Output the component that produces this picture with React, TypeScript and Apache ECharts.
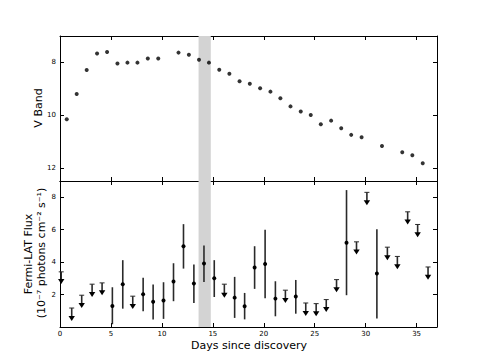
import React, { useEffect, useRef } from "react";
import * as echarts from "echarts";

// V band light curve (days since discovery, magnitude)
const vDays = [0.66, 1.64, 2.62, 3.64, 4.62, 5.64, 6.62, 7.6, 8.62, 9.64, 11.63, 12.65, 13.64, 14.62, 15.63, 16.62, 17.62, 18.63, 19.64, 20.65, 21.63, 22.62, 23.63, 24.61, 25.6, 26.61, 27.6, 28.58, 29.6, 31.6, 33.59, 34.58, 35.6];
const vMag = [10.16, 9.2, 8.29, 7.66, 7.61, 8.04, 8.01, 8.01, 7.85, 7.85, 7.63, 7.71, 7.9, 8.01, 8.28, 8.43, 8.72, 8.81, 8.98, 9.11, 9.36, 9.67, 9.86, 10.0, 10.35, 10.21, 10.5, 10.75, 10.84, 11.17, 11.41, 11.52, 11.83];

// Fermi-LAT detections
const detDays = [5.14, 6.16, 8.16, 9.14, 10.16, 11.14, 12.12, 13.14, 14.13, 15.14, 17.14, 18.12, 19.1, 20.13, 21.14, 23.14, 28.12, 31.1];
const detFlux = [1.3, 2.64, 2.02, 1.55, 1.63, 2.8, 4.98, 2.68, 3.91, 3.0, 1.81, 1.28, 3.67, 3.89, 1.75, 1.88, 5.19, 3.3];
const detLow = [0.17, 1.13, 0.97, 0.47, 0.5, 1.59, 3.6, 1.48, 2.78, 1.85, 0.56, 0.47, 2.35, 1.77, 0.66, 0.82, 1.96, 0.52];
const detHigh = [2.45, 4.12, 3.03, 2.62, 2.76, 3.93, 6.34, 3.85, 5.02, 4.12, 3.09, 2.1, 4.98, 5.99, 2.82, 2.9, 8.44, 6.03];

// Fermi-LAT upper limits (cap value, arrow tip value)
const ulDays = [0.12, 1.15, 2.13, 3.15, 4.13, 7.14, 16.13, 22.12, 24.12, 25.14, 26.13, 27.14, 29.1, 30.12, 32.13, 33.11, 34.12, 35.1, 36.12];
const ulTop = [3.4, 1.17, 1.96, 2.64, 2.72, 1.9, 2.64, 2.27, 1.48, 1.44, 1.69, 2.92, 5.25, 8.3, 4.92, 4.35, 7.1, 6.32, 3.7];
const ulTip = [2.65, 0.37, 1.17, 1.85, 1.96, 1.11, 1.81, 1.48, 0.68, 0.66, 0.93, 2.14, 4.47, 7.51, 4.12, 3.56, 6.32, 5.54, 2.92];

// highlighted interval
const bandRange = [13.6, 14.8];

// tick labels
const xTicks = [0, 5, 10, 15, 20, 25, 30, 35];
const vTicks = [8, 10, 12];
const fluxTicks = [2, 4, 6, 8];

const FONT = "DejaVu Sans";

export default function App() {
  const ref = useRef<HTMLDivElement>(null);
  useEffect(() => {
    if (!ref.current) return;
    const chart = echarts.init(ref.current, null, { renderer: "svg" });

    const mkX = (grid: number, pos: "top" | "bottom", labels: boolean) => ({
      type: "value",
      gridIndex: grid,
      position: pos,
      min: 0,
      max: 37,
      axisLine: { show: true, onZero: false, lineStyle: { color: "#000", width: 1 } },
      axisTick: { show: true, inside: true, length: 4, customValues: xTicks, lineStyle: { color: "#000" } },
      axisLabel: { show: labels, customValues: xTicks, fontSize: 7, color: "#000", margin: 3, fontFamily: FONT },
      splitLine: { show: false },
    });
    const mkY = (grid: number, pos: "left" | "right", labels: boolean, min: number, max: number, ticks: number[], inverse: boolean) => ({
      type: "value",
      gridIndex: grid,
      position: pos,
      min,
      max,
      inverse,
      axisLine: { show: true, onZero: false, lineStyle: { color: "#000", width: 1 } },
      axisTick: { show: true, inside: true, length: 4, customValues: ticks, lineStyle: { color: "#000" } },
      axisLabel: { show: labels, customValues: ticks, fontSize: 7, color: "#000", margin: 4, fontFamily: FONT },
      splitLine: { show: false },
    });

    const band = {
      silent: true,
      itemStyle: { color: "#d3d3d3" },
      data: [[{ xAxis: bandRange[0] }, { xAxis: bandRange[1] }]],
    };

    const option: any = {
      animation: false,
      textStyle: { fontFamily: FONT },
      grid: [
        { left: 60, right: 48, top: 36, height: 145 },
        { left: 60, right: 48, top: 181, height: 146 },
      ],
      xAxis: [mkX(0, "bottom", false), mkX(0, "top", false), mkX(1, "bottom", true), mkX(1, "top", false)],
      yAxis: [
        mkY(0, "left", true, 7, 12.5, vTicks, true),
        mkY(0, "right", false, 7, 12.5, vTicks, true),
        mkY(1, "left", true, 0, 9, fluxTicks, false),
        mkY(1, "right", false, 0, 9, fluxTicks, false),
      ],
      series: [
        {
          type: "scatter",
          xAxisIndex: 0,
          yAxisIndex: 0,
          symbolSize: 4,
          itemStyle: { color: "#000" },
          data: vDays.map((d, i) => [d, vMag[i]]),
          markArea: band,
          z: 3,
        },
        {
          type: "custom",
          xAxisIndex: 2,
          yAxisIndex: 2,
          encode: { x: 0, y: [1, 2, 3] },
          data: detDays.map((d, i) => [d, detFlux[i], detLow[i], detHigh[i]]),
          markArea: band,
          z: 3,
          renderItem: (params: any, api: any) => {
            const x = api.value(0);
            const p = api.coord([x, api.value(1)]);
            const lo = api.coord([x, api.value(2)]);
            const hi = api.coord([x, api.value(3)]);
            return {
              type: "group",
              children: [
                { type: "line", shape: { x1: lo[0], y1: lo[1], x2: hi[0], y2: hi[1] }, style: { stroke: "#2a2a2a", lineWidth: 1.6 } },
                { type: "circle", shape: { cx: p[0], cy: p[1], r: 2 }, style: { fill: "#000" } },
              ],
            };
          },
        },
        {
          type: "custom",
          xAxisIndex: 2,
          yAxisIndex: 2,
          encode: { x: 0, y: [1, 2] },
          data: ulDays.map((d, i) => [d, ulTop[i], ulTip[i]]),
          z: 3,
          renderItem: (params: any, api: any) => {
            const x = api.value(0);
            const t = api.coord([x, api.value(1)]);
            const b = api.coord([x, api.value(2)]);
            return {
              type: "group",
              children: [
                { type: "line", shape: { x1: t[0], y1: t[1], x2: b[0], y2: b[1] - 3 }, style: { stroke: "#2a2a2a", lineWidth: 1.6 } },
                { type: "line", shape: { x1: t[0] - 2.5, y1: t[1], x2: t[0] + 2.5, y2: t[1] }, style: { stroke: "#2a2a2a", lineWidth: 1 } },
                { type: "polygon", shape: { points: [[b[0] - 3.2, b[1] - 5], [b[0] + 3.2, b[1] - 5], [b[0], b[1]]] }, style: { fill: "#000" } },
              ],
            };
          },
        },
      ],
      graphic: [
        { type: "text", x: 38, y: 108, rotation: Math.PI / 2, style: { text: "V Band", font: `11px '${FONT}'`, fill: "#000", align: "center", verticalAlign: "middle" } },
        { type: "text", x: 28, y: 254, rotation: Math.PI / 2, style: { text: "Fermi-LAT Flux", font: `11px '${FONT}'`, fill: "#000", align: "center", verticalAlign: "middle" } },
        { type: "text", x: 41, y: 253, rotation: Math.PI / 2, style: { text: "(10⁻⁷ photons cm⁻² s⁻¹)", font: `11px '${FONT}'`, fill: "#000", align: "center", verticalAlign: "middle" } },
        { type: "text", x: 249, y: 345, style: { text: "Days since discovery", font: `11px '${FONT}'`, fill: "#000", align: "center", verticalAlign: "middle" } },
      ],
    };
    chart.setOption(option);
    return () => chart.dispose();
  }, []);
  return <div ref={ref} style={{ position: "fixed", left: 0, top: 0, width: 485, height: 363, background: "#fff" }} />;
}
